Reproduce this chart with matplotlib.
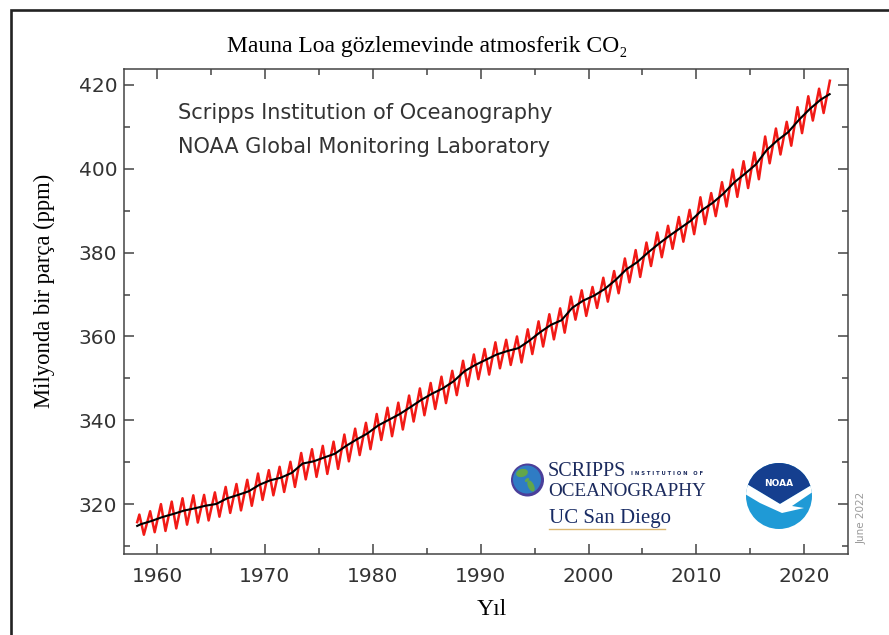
import numpy as np
import matplotlib
matplotlib.use("Agg")
import matplotlib.pyplot as plt
from matplotlib.patches import Circle, Polygon, Ellipse
from matplotlib.ticker import MultipleLocator

# ---- Mauna Loa CO2 record (ppm) ----
years = list(range(1958, 2023))

# seasonal maxima (around May) for each year
co2_peak = [317.5, 318.3, 320.0, 320.6, 321.4, 322.1, 322.2, 322.8, 324.1, 324.8,
            325.8, 327.3, 328.1, 328.9, 330.1, 332.2, 333.1, 333.9, 334.9, 336.6,
            338.0, 339.4, 341.5, 343.0, 344.2, 345.9, 347.6, 348.9, 350.4, 351.8,
            354.2, 355.7, 357.0, 358.6, 359.2, 360.0, 361.7, 363.6, 365.3, 366.7,
            369.5, 371.0, 371.8, 374.0, 375.6, 378.6, 380.6, 382.4, 384.8, 386.4,
            388.5, 390.2, 393.2, 394.2, 396.8, 399.8, 401.8, 403.9, 407.7, 409.6,
            411.2, 414.7, 417.3, 419.1, 421.0]

# seasonal minima (around October) for each year through 2021
co2_trough = [312.7, 313.3, 313.6, 314.2, 315.1, 315.6, 316.1, 317.0, 317.9, 318.5,
              319.6, 321.0, 322.1, 322.9, 324.1, 325.9, 326.5, 327.2, 328.4, 330.2,
              331.7, 333.1, 335.3, 336.2, 337.8, 339.7, 341.2, 342.7, 344.1, 346.0,
              348.2, 349.8, 350.9, 352.4, 353.2, 353.8, 355.8, 357.6, 359.3, 360.9,
              364.0, 364.9, 366.8, 368.3, 370.3, 372.9, 374.2, 376.8, 378.9, 380.9,
              382.6, 384.4, 386.8, 388.7, 391.0, 393.3, 395.4, 397.5, 401.3, 403.4,
              405.5, 408.5, 411.5, 413.3]

# first monthly value of the record (March 1958)
first_month = (1958.17, 315.7)

# deseasonalized trend: start, yearly means (mid-year), latest value
trend_start = (1958.17, 314.8)
co2_annual = [315.2, 315.98, 316.91, 317.64, 318.45, 318.99, 319.62, 320.04, 321.37,
              322.18, 323.05, 324.62, 325.68, 326.32, 327.46, 329.68, 330.19, 331.12,
              332.03, 333.84, 335.41, 336.84, 338.76, 340.12, 341.48, 343.15, 344.87,
              346.35, 347.61, 349.31, 351.69, 353.20, 354.45, 355.70, 356.54, 357.21,
              358.96, 360.97, 362.74, 363.88, 366.84, 368.54, 369.71, 371.32, 373.45,
              375.98, 377.70, 379.98, 382.09, 384.02, 385.83, 387.64, 390.10, 391.85,
              394.06, 396.74, 398.81, 401.01, 404.41, 406.76, 408.72, 411.66, 414.24,
              416.45]
trend_end = (2022.35, 417.8)

# ---- assemble curves ----
red_t = [first_month[0]]
red_v = [first_month[1]]
for i, y in enumerate(years):
    red_t.append(y + 0.37)
    red_v.append(co2_peak[i])
    if i < len(co2_trough):
        red_t.append(y + 0.79)
        red_v.append(co2_trough[i])

trend_t = [trend_start[0]] + [y + 0.5 for y in years[:len(co2_annual)]] + [trend_end[0]]
trend_v = [trend_start[1]] + co2_annual + [trend_end[1]]

W, H = 889, 635
fig = plt.figure(figsize=(W / 100, H / 100), dpi=100)
fig.patch.set_facecolor("white")

ax = fig.add_axes([123.5 / W, 1 - 554 / H, (848 - 123.5) / W, (554 - 69) / H])
ax.plot(red_t, red_v, color="#f21a16", lw=1.8, solid_joinstyle="round", zorder=2)
ax.plot(trend_t, trend_v, color="black", lw=1.5, zorder=3)

ax.set_xlim(1956.9, 2024.05)
ax.set_ylim(308.1, 423.8)
ax.set_xticks(range(1960, 2021, 10))
ax.set_yticks(range(320, 421, 20))
ax.xaxis.set_minor_locator(MultipleLocator(5))
ax.yaxis.set_minor_locator(MultipleLocator(10))
ax.tick_params(which="both", direction="in", top=True, right=True,
               color="#444444", width=1.1)
ax.tick_params(which="major", length=7)
ax.tick_params(which="minor", length=4)
ax.tick_params(axis="x", which="major", labelsize=14.5, labelcolor="#333333", pad=9)
ax.tick_params(axis="y", which="major", labelsize=14.5, labelcolor="#333333", pad=4.5)
for s in ax.spines.values():
    s.set_color("#444444")
    s.set_linewidth(1.1)

# ---- overlay in pixel coordinates for labels, logos and frame ----
ov = fig.add_axes([0, 0, 1, 1], zorder=5)
ov.set_xlim(0, W)
ov.set_ylim(H, 0)
ov.axis("off")
ov.patch.set_alpha(0)

serif = ["Liberation Serif", "DejaVu Serif"]
ov.text(427, 52, "Mauna Loa gözlemevinde atmosferik CO₂", ha="center",
        va="baseline", fontsize=17, family=serif, color="black")
ov.text(44, 291, "Milyonda bir parça (ppm)", rotation=90, ha="center",
        va="center", fontsize=16.3, family=serif, color="black")
ov.text(492, 615, "Yıl", ha="center", va="baseline", fontsize=17,
        family=serif, color="black")

ov.text(178, 119, "Scripps Institution of Oceanography", ha="left",
        va="baseline", fontsize=15, color="#333333")
ov.text(178, 153, "NOAA Global Monitoring Laboratory", ha="left",
        va="baseline", fontsize=15, color="#333333")

ov.text(862, 518, "June 2022", rotation=90, ha="center", va="center",
        fontsize=7.5, color="#9a9a9a")

# Scripps globe
ov.add_patch(Circle((527.5, 480), 16.5, fc="#4b3f9a", ec="none"))
ov.add_patch(Circle((527.0, 479.5), 14, fc="#2f7cc4", ec="none"))
ov.add_patch(Ellipse((522, 473), 12, 8, angle=-15, fc="#62a64b", ec="none"))
ov.add_patch(Ellipse((531, 486), 6, 12, angle=-25, fc="#62a64b", ec="none"))
ov.add_patch(Ellipse((527, 480), 5, 3, angle=-40, fc="#62a64b", ec="none"))

navy = "#1c2b5e"
ov.text(548, 476, "SCRIPPS", ha="left", va="baseline",
        fontsize=14.5, family=serif, color=navy)
ov.text(631, 475, "I N S T I T U T I O N   O F", ha="left", va="baseline",
        fontsize=3.8, family="DejaVu Sans", weight="bold", color=navy)
ov.text(548, 495.5, "OCEANOGRAPHY", ha="left", va="baseline",
        fontsize=13.8, family=serif, color=navy)
ov.text(549, 523, "UC San Diego", ha="left", va="baseline", fontsize=15,
        family=serif, color="#182b64")
ov.plot([549, 665], [528.5, 528.5], color="#dcb872", lw=1)

# NOAA emblem
cx, cy, r = 779, 496, 33
disc = Circle((cx, cy), r, fc="#1f9ad6", ec="none")
ov.add_patch(disc)
dark = Polygon([(740, 455), (820, 455), (820, 480), (780, 504), (740, 480)],
               closed=True, fc="#153f8f", ec="none")
gull = Polygon([(740, 480), (780, 504), (820, 480), (820, 487), (792, 506),
                (804, 508), (782, 513), (760, 503), (740, 491)],
               closed=True, fc="white", ec="none")
ov.add_patch(dark)
ov.add_patch(gull)
dark.set_clip_path(disc)
gull.set_clip_path(disc)
ov.text(cx, 484, "NOAA", ha="center", va="center", fontsize=6.5,
        weight="bold", color="white", family="DejaVu Sans")

# page frame (left and top edges)
ov.plot([11.3, 11.3, W + 2], [H + 2, 10.3, 10.3], color="#222222", lw=1.9,
        solid_joinstyle="miter")

fig.savefig("out.png", dpi=100)
